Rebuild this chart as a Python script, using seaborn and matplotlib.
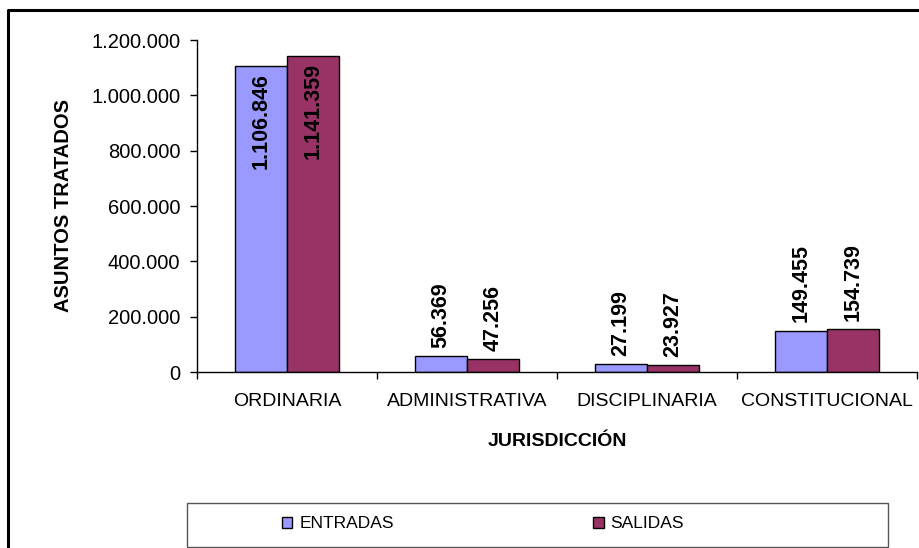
import matplotlib
matplotlib.use("Agg")
import matplotlib.pyplot as plt
from matplotlib.lines import Line2D
from matplotlib.patches import Rectangle
import pandas as pd
import seaborn as sns

jurisdicciones = ["ORDINARIA", "ADMINISTRATIVA", "DISCIPLINARIA", "CONSTITUCIONAL"]
entradas = [1106846, 56369, 27199, 149455]
salidas = [1141359, 47256, 23927, 154739]
series = ["ENTRADAS", "SALIDAS"]
colores = ["#9999FF", "#993366"]
yticks = [0, 200000, 400000, 600000, 800000, 1000000, 1200000]


def fmt(v):
    return f"{v:,}".replace(",", ".")


df = pd.DataFrame({
    "jurisdiccion": jurisdicciones * 2,
    "serie": [series[0]] * 4 + [series[1]] * 4,
    "valor": entradas + salidas,
})

sns.set_style("white")
plt.rcParams["font.family"] = ["Liberation Sans", "DejaVu Sans"]
plt.rcParams.update({"text.color": "black", "axes.labelcolor": "black",
                     "xtick.color": "black", "ytick.color": "black"})

fig = plt.figure(figsize=(9.2, 5.48), dpi=100)
ax = fig.add_axes([197 / 920, 1 - 372 / 548, 720 / 920, 332 / 548])

sns.barplot(data=df, x="jurisdiccion", y="valor", hue="serie", order=jurisdicciones,
            hue_order=series, palette=colores, width=0.58, edgecolor="black",
            linewidth=1, saturation=1, ax=ax)
handles, labels = ax.get_legend_handles_labels()
ax.get_legend().remove()

ax.set_xlim(-0.5, len(jurisdicciones) - 0.5)
ax.set_ylim(0, 1200000)
ax.set_yticks(yticks)
ax.set_yticklabels([fmt(v) for v in yticks], fontsize=14.5)
ax.tick_params(axis="y", direction="out", length=5, width=1, pad=7, left=True, color="black")

# category boundaries as major ticks, labels on minor ticks
ax.set_xticks([i - 0.5 for i in range(len(jurisdicciones) + 1)])
ax.set_xticklabels([])
ax.set_xticks(range(len(jurisdicciones)), minor=True)
ax.set_xticklabels(jurisdicciones, minor=True, fontsize=14)
ax.tick_params(axis="x", which="major", direction="out", length=5, width=1, bottom=True, color="black")
ax.tick_params(axis="x", which="minor", length=0, pad=15)

for s in ["top", "right"]:
    ax.spines[s].set_visible(False)
for s in ["left", "bottom"]:
    ax.spines[s].set_color("black")
    ax.spines[s].set_linewidth(1)

ax.set_ylabel("ASUNTOS TRATADOS", fontsize=14.5, fontweight="bold")
ax.yaxis.set_label_coords(-0.172, 0.5)
ax.set_xlabel("JURISDICCIÓN", fontsize=14, fontweight="bold")
ax.xaxis.set_label_coords(0.5, -0.183)

valores = [entradas, salidas]
for cont, vals in zip(ax.containers, valores):
    for i, (bar, v) in enumerate(zip(cont, vals)):
        x = bar.get_x() + bar.get_width() / 2
        h = bar.get_height()
        if i == 0:
            ax.annotate(fmt(v), (x, h), xytext=(0, -5), textcoords="offset points",
                        rotation=90, ha="center", va="top", fontsize=15.5, fontweight="bold")
        else:
            ax.annotate(fmt(v), (x, h), xytext=(0, 6), textcoords="offset points",
                        rotation=90, ha="center", va="bottom", fontsize=15.5, fontweight="bold")

# outer frame (top and left edges visible)
fig.add_artist(Line2D([8 / 920, 8 / 920, 1.0], [0.0, 1 - 10 / 548, 1 - 10 / 548],
                      transform=fig.transFigure, color="black", linewidth=2.2))

# legend box
fig.add_artist(Rectangle((187 / 920, 1 - 547 / 548), 701 / 920, 44 / 548,
                         transform=fig.transFigure, fill=False, edgecolor="#555555", linewidth=1))
fig.legend(handles, labels, loc="center", bbox_to_anchor=(483 / 920, 1 - 524 / 548),
           ncol=2, frameon=False, fontsize=12.5, columnspacing=11.5, handlelength=0.6,
           handleheight=0.6, handletextpad=0.4)

fig.savefig("out.png", dpi=100)
